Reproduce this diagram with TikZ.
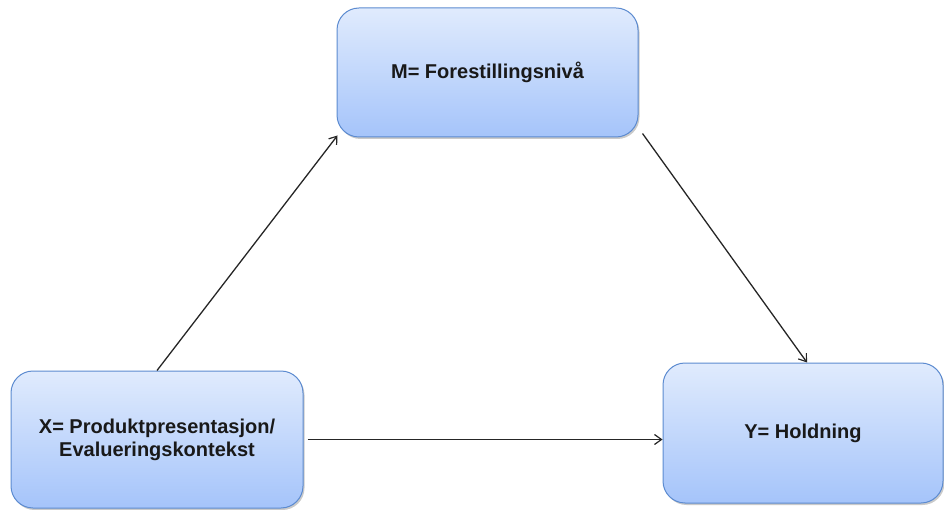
\documentclass[tikz,border=0pt]{standalone}
\usepackage{fontspec}
\setmainfont{Liberation Sans}
\usetikzlibrary{shadows,arrows.meta}
\definecolor{boxtop}{RGB}{224,235,253}
\definecolor{boxbottom}{RGB}{165,196,250}
\definecolor{boxedge}{RGB}{92,139,208}
\tikzset{
  varbox/.style={
    draw=boxedge, line width=1pt, rounded corners=22pt,
    top color=boxtop, bottom color=boxbottom,
    drop shadow={shadow xshift=1.5pt, shadow yshift=-2pt, opacity=0.35, fill=black!60},
    align=center, inner sep=0pt, text=black!90,
    font=\fontsize{20}{23}\selectfont\bfseries
  },
  link/.style={-{Straight Barb[length=7pt,width=10pt,line width=1.2pt]}, line width=1.3pt, draw=black!85}
}
\begin{document}
\begin{tikzpicture}[x=1pt,y=-1pt]
  \useasboundingbox (0,0) rectangle (944,510);
  \node[varbox, minimum width=301pt, minimum height=129pt] (m) at (487.5,72.5) {M= Forestillingsnivå};
  \node[varbox, minimum width=292pt, minimum height=137pt] (x) at (157,439.5) {X= Produktpresentasjon/\\Evalueringskontekst};
  \node[varbox, minimum width=280pt, minimum height=140pt] (y) at (803,433) {Y= Holdning};
  \coordinate (xe) at ([xshift=4pt]x.east);
  \draw[link] (x.north) -- ([xshift=1pt,yshift=2pt]m.south west);
  \draw[link] ([xshift=4pt,yshift=4pt]m.south east) -- ([xshift=4pt]y.north);
  \draw[link] (xe) -- (xe -| y.west);
\end{tikzpicture}
\end{document}
